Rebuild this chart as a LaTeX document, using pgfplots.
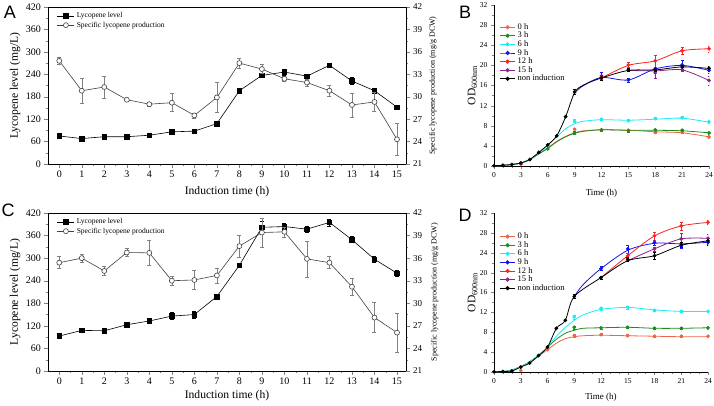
\documentclass[border=0pt]{standalone}
\usepackage{fontspec}
\setmainfont{Liberation Serif}
\newfontfamily\panelfont{Liberation Sans}
\usepackage{pgfplots}
\pgfplotsset{compat=1.18}

\definecolor{tomatoc}{RGB}{240,100,70}
\definecolor{greenc}{RGB}{30,140,30}
\definecolor{cyanc}{RGB}{30,235,245}
\definecolor{bluec}{RGB}{20,20,235}
\definecolor{redc}{RGB}{250,35,35}
\definecolor{purplec}{RGB}{140,35,140}

\pgfplotsset{
  lycoleft/.style={
    scale only axis, width=358pt, xmin=-0.5, xmax=15.4,
    ymin=0, ymax=420, xtick={0,...,15}, ytick={0,60,...,420},
    minor x tick num=1, minor y tick num=1,
    xtick pos=bottom, ytick pos=left, tick align=outside,
    major tick length=3.5pt, minor tick length=2pt,
    /pgf/number format/assume math mode=true,
    tick label style={font=\fontsize{10}{12}\selectfont},
    label style={font=\fontsize{11.6}{13}\selectfont},
    ylabel={Lycopene level (mg/L)},
    xlabel={Induction time (h)},
    ylabel style={at={(axis description cs:-0.092,0.5)}, anchor=center},
    axis line style={line width=0.7pt},
    legend style={draw=none, fill=none, font=\fontsize{7.5}{9}\selectfont, inner sep=1pt, row sep=-1.5pt, cells={anchor=west}},
  },
  lycoright/.style={
    scale only axis, width=358pt, xmin=-0.5, xmax=15.4,
    ymin=21, ymax=42, ytick={21,24,...,42}, minor y tick num=1,
    axis x line=none, axis y line*=right, tick align=outside,
    major tick length=3.5pt, minor tick length=2pt,
    /pgf/number format/assume math mode=true,
    tick label style={font=\fontsize{9}{11}\selectfont},
    ylabel={Specific lycopene production (mg/g DCW)},
    ylabel style={font=\fontsize{8}{10}\selectfont, anchor=center},
    axis line style={line width=0.7pt},
  },
  sqplot/.style={black, line width=0.6pt, mark=square*, mark size=2.3pt,
    error bars/.cd, y dir=both, y explicit,
    error bar style={line width=0.5pt, black},
    error mark options={rotate=90, mark size=2pt, line width=0.5pt, black}},
  ciplot/.style={black!75, line width=0.6pt, mark=*, mark size=2.5pt,
    mark options={fill=white, draw=black!75},
    error bars/.cd, y dir=both, y explicit,
    error bar style={line width=0.5pt, black!50},
    error mark options={rotate=90, mark size=2pt, line width=0.5pt, black!50}},
  odaxis/.style={
    scale only axis, xmin=0, xmax=24, ymin=0, ymax=32,
    axis lines=left, axis line style={-, line width=0.7pt},
    xtick={0,3,...,24}, ytick={0,4,...,32},
    minor x tick num=2, minor y tick num=1,
    tick align=outside, major tick length=3pt, minor tick length=1.8pt,
    /pgf/number format/assume math mode=true,
    tick label style={font=\fontsize{7.5}{9}\selectfont},
    xlabel={Time (h)}, xlabel style={font=\fontsize{9}{11}\selectfont},
    ylabel={OD\textsubscript{600nm}}, ylabel style={font=\fontsize{11.5}{13}\selectfont, at={(axis description cs:-0.1,0.5)}, anchor=center},
    legend style={draw=none, fill=none, font=\fontsize{8.5}{9}\selectfont, inner sep=1pt, row sep=-2.8pt, cells={anchor=west}},
    legend image code/.code={\draw[mark repeat=2,mark phase=2] plot coordinates {(0cm,0cm) (0.27cm,0cm) (0.54cm,0cm)};},
  },
  curve/.style={#1, line width=0.8pt, smooth, no markers, forget plot},
  pts/.style={#1, only marks, mark=*, mark size=1.7pt, forget plot,
    error bars/.cd, y dir=both, y explicit,
    error bar style={line width=0.5pt, #1},
    error mark options={rotate=90, mark size=1.5pt, line width=0.5pt, #1}},
}

\begin{document}
\begin{tikzpicture}
\useasboundingbox (0pt,0pt) rectangle (714pt,405pt);

% ---------------- Panel A ----------------
\begin{axis}[lycoleft, at={(48pt,241pt)}, anchor=south west, height=157pt,
  xlabel style={at={(axis description cs:0.5,-0.176)}, anchor=center},
  legend style={at={(0.022,0.985)}, anchor=north west}]
\addplot[sqplot] coordinates {
 (0,75) +- (0,3) (1,68) +- (0,3) (2,73) +- (0,3) (3,73) +- (0,3)
 (4,77) +- (0,3) (5,86) +- (0,3) (6,88) +- (0,3) (7,108) +- (0,3)
 (8,196) +- (0,6) (9,237) +- (0,4) (10,246) +- (0,8) (11,235) +- (0,4)
 (12,264) +- (0,4) (13,222) +- (0,9) (14,196) +- (0,4) (15,152) +- (0,4)};
\addlegendentry{Lycopene level}
\addlegendimage{black!75, line width=0.6pt, mark=*, mark size=2.5pt, mark options={fill=white, draw=black!75}}
\addlegendentry{Specific lycopene production}
\end{axis}
\begin{axis}[lycoright, at={(48pt,241pt)}, anchor=south west, height=157pt,
  ylabel style={at={(axis description cs:1.075,0.5)}}]
\addplot[ciplot] coordinates {
 (0,34.8) +- (0,0.45) (1,30.8) +- (0,1.65) (2,31.3) +- (0,1.45) (3,29.6) +- (0,0.2)
 (4,29.0) +- (0,0.3) (5,29.2) +- (0,1.2) (6,27.5) +- (0,0.35) (7,29.9) +- (0,2.0)
 (8,34.5) +- (0,0.65) (9,33.7) +- (0,0.6) (10,32.4) +- (0,0.35) (11,31.9) +- (0,0.45)
 (12,30.8) +- (0,0.8) (13,28.9) +- (0,1.6) (14,29.3) +- (0,1.25) (15,24.3) +- (0,2.1)};
\end{axis}

% ---------------- Panel C ----------------
\begin{axis}[lycoleft, at={(48pt,34pt)}, anchor=south west, height=158pt,
  xlabel style={at={(axis description cs:0.5,-0.158)}, anchor=center},
  legend style={at={(0.022,0.985)}, anchor=north west}]
\addplot[sqplot] coordinates {
 (0,93) +- (0,4) (1,108) +- (0,4) (2,107) +- (0,4) (3,123) +- (0,3)
 (4,133) +- (0,3) (5,146) +- (0,9) (6,150) +- (0,9) (7,198) +- (0,3)
 (8,281) +- (0,6) (9,382) +- (0,15) (10,384) +- (0,10) (11,377) +- (0,8)
 (12,395) +- (0,9) (13,349) +- (0,8) (14,297) +- (0,8) (15,260) +- (0,8)};
\addlegendentry{Lycopene level}
\addlegendimage{black!75, line width=0.6pt, mark=*, mark size=2.5pt, mark options={fill=white, draw=black!75}}
\addlegendentry{Specific lycopene production}
\end{axis}
\begin{axis}[lycoright, at={(48pt,34pt)}, anchor=south west, height=158pt,
  ylabel style={at={(axis description cs:1.08,0.5)}}]
\addplot[ciplot] coordinates {
 (0,35.4) +- (0,0.8) (1,36.0) +- (0,0.58) (2,34.3) +- (0,0.62) (3,36.75) +- (0,0.53)
 (4,36.7) +- (0,1.7) (5,33.0) +- (0,0.6) (6,33.1) +- (0,1.25) (7,33.7) +- (0,1.0)
 (8,37.6) +- (0,1.5) (9,39.4) +- (0,1.9) (10,39.5) +- (0,0.67) (11,35.9) +- (0,2.4)
 (12,35.4) +- (0,0.8) (13,32.2) +- (0,1.1) (14,28.1) +- (0,2.0) (15,26.1) +- (0,2.6)};
\end{axis}

% ---------------- Panel B ----------------
\begin{axis}[odaxis, at={(494pt,239pt)}, anchor=south west, width=215pt, height=161pt,
  xlabel style={at={(axis description cs:0.5,-0.168)}, anchor=center},
  legend style={at={(0.02,0.905)}, anchor=north west}]
% 0 h
\addplot[curve=tomatoc] coordinates {(0,0.05) (1,0.1) (2,0.3) (3,0.6) (4,1.3) (5,2.4) (6,3.6) (7,4.9) (8,5.9) (9,6.6) (10,7.0) (12,7.2) (15,7.1) (18,6.8) (21,6.6) (24,5.8)};
\addplot[pts=tomatoc] coordinates {(3,0.3) +- (0,0) (9,7.3) +- (0,0.3) (12,7.2) +- (0,0.2) (15,7.1) +- (0,0.2) (18,6.7) +- (0,0.2) (21,6.7) +- (0,0.2) (24,5.8) +- (0,0.3)};
% 3 h
\addplot[curve=greenc] coordinates {(0,0.05) (1,0.1) (2,0.3) (3,0.6) (4,1.3) (5,2.4) (6,3.5) (7,4.8) (8,5.8) (9,6.5) (10,6.9) (12,7.2) (15,7.1) (18,7.1) (21,7.0) (24,6.6)};
\addplot[pts=greenc] coordinates {(6,3.4) +- (0,0) (9,6.6) +- (0,0.3) (12,7.2) +- (0,0.2) (15,7.0) +- (0,0.2) (18,7.2) +- (0,0.2) (21,7.1) +- (0,0.2) (24,6.6) +- (0,0.2)};
% 6 h
\addplot[curve=cyanc] coordinates {(0,0.05) (1,0.1) (2,0.3) (3,0.6) (4,1.3) (5,2.6) (6,4.1) (7,5.8) (8,7.4) (9,8.4) (10,8.9) (12,9.2) (15,9.1) (18,9.3) (21,9.5) (24,8.7)};
\addplot[pts=cyanc] coordinates {(9,8.9) +- (0,0.3) (12,9.3) +- (0,0.2) (15,9.0) +- (0,0.2) (18,9.4) +- (0,0.2) (21,9.6) +- (0,0.2) (24,8.75) +- (0,0.3)};
% 9 h
\addplot[curve=bluec] coordinates {(9,14.6) (10,16.0) (12,17.6) (15,17.1) (18,19.3) (21,20.0) (24,19.0)};
\addplot[pts=bluec] coordinates {(12,17.9) +- (0,0.7) (15,17.1) +- (0,0.4) (18,19.3) +- (0,0.4) (21,20.1) +- (0,1.0) (24,19.0) +- (0,0.6)};
% 12 h
\addplot[curve=redc] coordinates {(12,17.5) (15,20.0) (18,20.9) (21,22.9) (24,23.3)};
\addplot[pts=redc] coordinates {(12,17.6) +- (0,0.3) (15,20.1) +- (0,0.5) (18,20.9) +- (0,1.2) (21,22.9) +- (0,0.7) (24,23.3) +- (0,0.6)};
% 15 h
\addplot[curve=purplec] coordinates {(15,19.0) (18,18.9) (21,19.1) (24,17.0)};
\addplot[pts=purplec] coordinates {(18,18.5) +- (0,1.0) (21,19.2) +- (0,0.4) (24,17.0) +- (0,0.9)};
% non induction
\addplot[curve=black] coordinates {(0,0.05) (1,0.15) (2,0.3) (3,0.6) (4,1.3) (5,2.7) (6,4.2) (7,6.0) (8,9.8) (9,14.6) (10,16.1) (12,17.5) (15,19.0) (18,19.1) (21,19.7) (24,19.4)};
\addplot[pts=black] coordinates {(0,0.05) +- (0,0) (1,0.15) +- (0,0) (2,0.3) +- (0,0) (3,0.6) +- (0,0) (4,1.3) +- (0,0) (5,2.7) +- (0,0) (6,4.2) +- (0,0) (7,6.0) +- (0,0) (8,9.8) +- (0,0) (9,14.7) +- (0,0.5) (12,17.5) +- (0,0.4) (15,19.1) +- (0,0.3) (18,19.1) +- (0,0.3) (21,19.7) +- (0,0.4) (24,19.4) +- (0,0.5)};
\addlegendimage{tomatoc, line width=0.8pt, mark=*, mark size=1.7pt}\addlegendentry{0 h}
\addlegendimage{greenc, line width=0.8pt, mark=*, mark size=1.7pt}\addlegendentry{3 h}
\addlegendimage{cyanc, line width=0.8pt, mark=*, mark size=1.7pt}\addlegendentry{6 h}
\addlegendimage{bluec, line width=0.8pt, mark=*, mark size=1.7pt}\addlegendentry{9 h}
\addlegendimage{redc, line width=0.8pt, mark=*, mark size=1.7pt}\addlegendentry{12 h}
\addlegendimage{purplec, line width=0.8pt, mark=*, mark size=1.7pt}\addlegendentry{15 h}
\addlegendimage{black, line width=0.8pt, mark=*, mark size=1.7pt}\addlegendentry{non induction}
\end{axis}

% ---------------- Panel D ----------------
\begin{axis}[odaxis, at={(494pt,33pt)}, anchor=south west, width=214pt, height=159pt,
  xlabel style={at={(axis description cs:0.5,-0.162)}, anchor=center},
  legend style={at={(0.02,0.895)}, anchor=north west}]
% 0 h
\addplot[curve=tomatoc] coordinates {(0,0.05) (1,0.1) (2,0.4) (3,1.1) (4,2.0) (5,3.2) (6,4.5) (7,5.8) (8,6.7) (9,7.1) (10,7.3) (12,7.4) (15,7.3) (18,7.2) (21,7.1) (24,7.1)};
\addplot[pts=tomatoc] coordinates {(3,0.3) +- (0,0) (6,4.5) +- (0,0) (9,7.3) +- (0,0.3) (12,7.5) +- (0,0.2) (15,7.3) +- (0,0.2) (18,7.2) +- (0,0.2) (21,7.2) +- (0,0.2) (24,7.2) +- (0,0.2)};
% 3 h
\addplot[curve=greenc] coordinates {(0,0.05) (1,0.1) (2,0.4) (3,1.1) (4,2.1) (5,3.4) (6,5.0) (7,6.6) (8,7.8) (9,8.4) (10,8.8) (12,8.9) (15,9.0) (18,8.8) (21,8.8) (24,8.9)};
\addplot[pts=greenc] coordinates {(9,9.0) +- (0,0.3) (12,8.9) +- (0,0.2) (15,9.0) +- (0,0.2) (18,8.8) +- (0,0.2) (21,8.8) +- (0,0.2) (24,8.9) +- (0,0.2)};
% 6 h
\addplot[curve=cyanc] coordinates {(0,0.05) (1,0.1) (2,0.4) (3,1.1) (4,2.1) (5,3.4) (6,5.1) (7,7.2) (8,9.0) (9,10.4) (10,11.5) (12,12.6) (15,13.0) (18,12.5) (21,12.2) (24,12.2)};
\addplot[pts=cyanc] coordinates {(9,11.1) +- (0,0.4) (12,12.8) +- (0,0.3) (15,13.0) +- (0,0.3) (18,12.4) +- (0,0.2) (21,12.2) +- (0,0.2) (24,12.2) +- (0,0.2)};
% 9 h
\addplot[curve=bluec] coordinates {(9,15.2) (10,17.6) (12,20.8) (15,24.5) (18,25.9) (21,25.8) (24,26.1)};
\addplot[pts=bluec] coordinates {(12,20.8) +- (0,0.4) (15,24.8) +- (0,0.8) (18,26.1) +- (0,0.5) (21,25.4) +- (0,0.4) (24,26.1) +- (0,0.4)};
% 12 h
\addplot[curve=redc] coordinates {(12,19.0) (15,23.4) (18,27.4) (21,29.4) (24,30.1)};
\addplot[pts=redc] coordinates {(15,23.4) +- (0,0.5) (18,27.4) +- (0,0.8) (21,29.4) +- (0,0.8) (24,30.1) +- (0,0.4)};
% 15 h
\addplot[curve=purplec] coordinates {(15,22.4) (18,24.8) (21,26.8) (24,26.9)};
\addplot[pts=purplec] coordinates {(18,24.8) +- (0,0.4) (21,26.8) +- (0,1.2) (24,26.9) +- (0,0.8)};
% non induction
\addplot[curve=black] coordinates {(0,0.05) (1,0.1) (2,0.2) (3,1.0) (4,1.8) (5,3.3) (6,5.0) (7,8.8) (8,10.4) (9,15.2) (12,19.0) (15,22.4) (18,23.4) (21,25.5) (24,26.4)};
\addplot[pts=black] coordinates {(0,0.05) +- (0,0) (1,0.1) +- (0,0) (2,0.2) +- (0,0) (3,1.0) +- (0,0) (4,1.8) +- (0,0) (5,3.3) +- (0,0) (6,5.0) +- (0,0) (7,8.8) +- (0,0) (8,10.4) +- (0,0) (9,15.2) +- (0,0.4) (12,19.0) +- (0,0.3) (15,22.6) +- (0,0.4) (18,23.4) +- (0,0.8) (21,25.6) +- (0,0.5) (24,26.4) +- (0,0.8)};
\addlegendimage{tomatoc, line width=0.8pt, mark=*, mark size=1.7pt}\addlegendentry{0 h}
\addlegendimage{greenc, line width=0.8pt, mark=*, mark size=1.7pt}\addlegendentry{3 h}
\addlegendimage{cyanc, line width=0.8pt, mark=*, mark size=1.7pt}\addlegendentry{6 h}
\addlegendimage{bluec, line width=0.8pt, mark=*, mark size=1.7pt}\addlegendentry{9 h}
\addlegendimage{redc, line width=0.8pt, mark=*, mark size=1.7pt}\addlegendentry{12 h}
\addlegendimage{purplec, line width=0.8pt, mark=*, mark size=1.7pt}\addlegendentry{15 h}
\addlegendimage{black, line width=0.8pt, mark=*, mark size=1.7pt}\addlegendentry{non induction}
\end{axis}

% panel letters
\node[font=\panelfont\fontsize{18}{18}\selectfont, inner sep=0pt] at (10pt,393pt) {A};
\node[font=\panelfont\fontsize{18}{18}\selectfont, inner sep=0pt] at (465pt,392.5pt) {B};
\node[font=\panelfont\fontsize{18}{18}\selectfont, inner sep=0pt] at (8pt,195pt) {C};
\node[font=\panelfont\fontsize{18}{18}\selectfont, inner sep=0pt] at (465pt,190pt) {D};
\end{tikzpicture}
\end{document}
